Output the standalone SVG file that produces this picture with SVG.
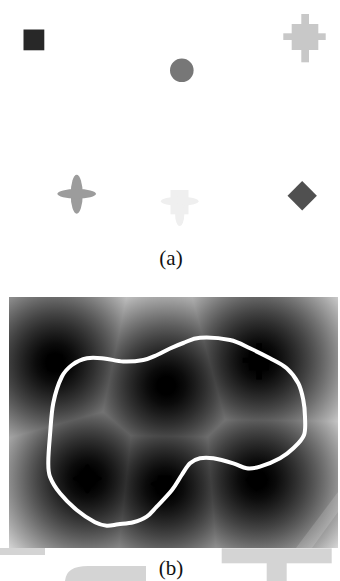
<svg xmlns="http://www.w3.org/2000/svg" width="340" height="581" viewBox="0 0 340 581">
<style>
.lbl{font-family:"Liberation Serif","Times New Roman",serif;font-size:21px;fill:#111;text-anchor:middle}
.df{mix-blend-mode:darken}
.wm{fill:#d4d4d4}
.contour{fill:none;stroke:#fff;stroke-width:4;stroke-linejoin:round}
</style>
<defs>
<radialGradient id="base" gradientUnits="userSpaceOnUse" cx="0" cy="0" r="109">
<stop offset="0" stop-color="#000"/>
<stop offset="0.083" stop-color="#000"/>
<stop offset="0.174" stop-color="#0b0b0b"/>
<stop offset="0.266" stop-color="#1c1c1c"/>
<stop offset="0.358" stop-color="#2f2f2f"/>
<stop offset="0.450" stop-color="#444444"/>
<stop offset="0.541" stop-color="#5b5b5b"/>
<stop offset="0.633" stop-color="#747474"/>
<stop offset="0.725" stop-color="#8e8e8e"/>
<stop offset="0.817" stop-color="#a8a8a8"/>
<stop offset="0.908" stop-color="#c4c4c4"/>
<stop offset="1" stop-color="#e1e1e1"/>
</radialGradient>
<radialGradient id="gSq" href="#base" gradientUnits="userSpaceOnUse" cx="55.1" cy="362.7" fx="55.1" fy="362.7" r="109"/>
<radialGradient id="gCi" href="#base" gradientUnits="userSpaceOnUse" cx="166.3" cy="385.6" fx="166.3" fy="385.6" r="109"/>
<radialGradient id="gPl" href="#base" gradientUnits="userSpaceOnUse" cx="259.1" cy="360.5" fx="259.1" fy="360.5" r="109"/>
<radialGradient id="gSt" href="#base" gradientUnits="userSpaceOnUse" cx="87.3" cy="478.6" fx="87.3" fy="478.6" r="109"/>
<radialGradient id="gLt" href="#base" gradientUnits="userSpaceOnUse" cx="164.7" cy="486.9" fx="164.7" fy="486.9" r="109"/>
<radialGradient id="gDi" href="#base" gradientUnits="userSpaceOnUse" cx="257.5" cy="479.9" fx="257.5" fy="479.9" r="109"/>
<g id="sq"><rect x="23.5" y="29.5" width="20.8" height="20.8"/></g>
<g id="ci"><circle cx="181.8" cy="70.3" r="11.8"/></g>
<g id="pl"><rect x="301.3" y="14" width="7.7" height="48.3"/><rect x="291.7" y="24" width="26.6" height="26"/><rect x="283.3" y="33.3" width="42.4" height="6.7"/></g>
<g id="st"><ellipse cx="76.7" cy="194.3" rx="6" ry="19.5"/><ellipse cx="76.7" cy="193.8" rx="19.3" ry="4.8"/></g>
<g id="lt"><rect x="170.5" y="190" width="18" height="24.3"/><ellipse cx="179.7" cy="201.2" rx="18.8" ry="4.5"/><ellipse cx="179.7" cy="214" rx="4.6" ry="12"/></g>
<g id="di"><polygon points="302.2,181 316.9,195.8 302.2,210.6 287.5,195.8"/></g>
<clipPath id="panelClip"><rect x="9" y="297" width="329" height="251"/></clipPath>
</defs>
<rect width="340" height="581" fill="#fff"/>
<g id="panel-a">
<use id="shape-square" href="#sq" fill="#282828"/>
<use id="shape-circle" href="#ci" fill="#777777"/>
<use id="shape-plus" href="#pl" fill="#c8c8c8"/>
<use id="shape-star" href="#st" fill="#9c9c9c"/>
<use id="shape-light" href="#lt" fill="#efefef"/>
<use id="shape-diamond" href="#di" fill="#505050"/>
<text class="lbl" x="171" y="265">(a)</text>
</g>
<g id="watermark">
<path class="wm" d="M0,548 H45 V555 H0 Z"/>
<path class="wm" d="M65,581 Q66,566 88,566 H146 V581 Z"/>
<rect class="wm" x="221.7" y="548.3" width="110" height="15"/>
<rect class="wm" x="266.7" y="563" width="20" height="18"/>
</g>
<g id="panel-b" clip-path="url(#panelClip)">
<g style="isolation:isolate">
<rect x="9" y="297" width="329" height="251" fill="#e4e4e4"/>
<rect class="df" x="9" y="297" width="329" height="251" fill="url(#gSq)"/>
<rect class="df" x="9" y="297" width="329" height="251" fill="url(#gCi)"/>
<rect class="df" x="9" y="297" width="329" height="251" fill="url(#gPl)"/>
<rect class="df" x="9" y="297" width="329" height="251" fill="url(#gSt)"/>
<rect class="df" x="9" y="297" width="329" height="251" fill="url(#gLt)"/>
<rect class="df" x="9" y="297" width="329" height="251" fill="url(#gDi)"/>
</g>
<g transform="translate(29.6,332.7) scale(0.752)" fill="#000">
<use href="#sq"/><use href="#ci"/><use href="#pl"/><use href="#st"/><use href="#lt"/><use href="#di"/>
</g>
<polygon points="296,548 338,492 338,512 312,548" fill="#fff" opacity="0.15"/>
<g id="connectors">
<path id="contour" class="contour" d="M50,435 C50.83,425.22 51.35,412.67 53.3,403 S58.58,383.33 61.7,377 S67.78,368.12 72,365 S81.67,359.38 87,358.3 S97.95,357.970 104,358.5 S116.75,361.25 123.3,361.5 S137.68,361.08 143.3,360 S152.55,356.92 157,355 S165.62,350.5 170,348.5 S178.3,344.8 183.3,343 S192.22,338.2 200,337.7 S221.67,338.23 230,340 S243.33,345.25 250,348.3 S263.88,354.97 270,358.3 S281.98,364.13 286.7,368.3 S295.53,378.02 298.3,383.3 S302.18,394.43 303.3,400 S304.88,410.87 305,416.7 S305.95,429.73 304,435 S297.3,444.42 293.3,448.3 S285.55,455.23 280,458.3 S265.55,465.03 260,466.7 S251.15,468.87 246.7,468.3 S238.87,464.97 233.3,463.3 S218.85,459.13 213.3,458.3 S203.88,457.47 200,458.3 S193.05,460.52 190,463.3 S184.7,470.55 181.7,475 S176.17,484.72 172,490 S160.92,502.25 156.7,506.7 S150.6,514.1 146.7,516.7 S138.03,521.03 133.3,522.3 S122.73,523.73 118.3,524.3 S110.58,526.03 106.7,525.7 S100,524.92 95,522.3 S82.53,514.83 76.7,510 S64.45,498.85 60,493.3 S51.95,481.97 50,476.7 S48.3,468.65 48.3,461.7 S49.17,444.78 50,435 Z"/>
</g>
</g>
<text class="lbl" x="171" y="575">(b)</text>
</svg>
